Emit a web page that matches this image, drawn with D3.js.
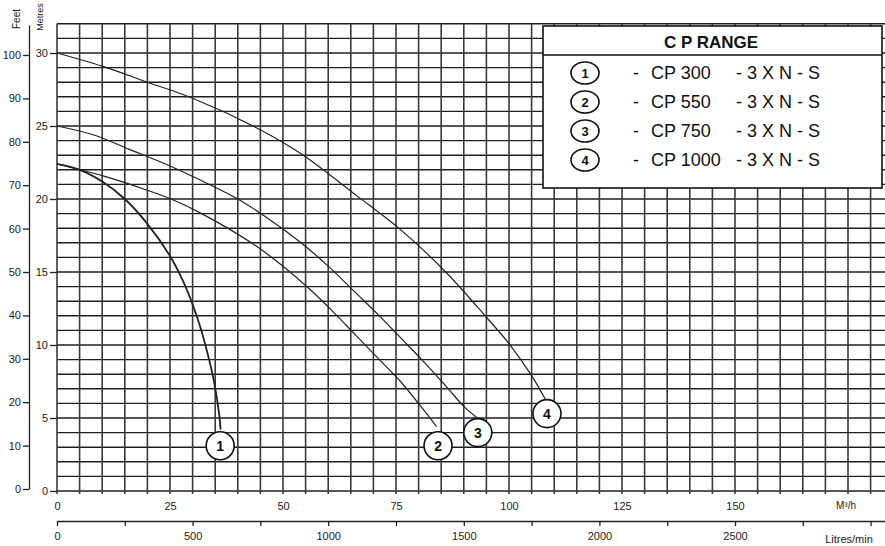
<!DOCTYPE html>
<html>
<head>
<meta charset="utf-8">
<script src="https://cdn.jsdelivr.net/npm/d3@7"></script>
<style>
  body { margin: 0; background: #fff; }
  svg { display: block; font-family: "Liberation Sans", Arial, sans-serif; }
</style>
</head>
<body>
<div id="chart"></div>
<script>
// pump curves: [flow m3/h, head metres]
const cp300 = [[0, 22.4], [5, 22.0], [10, 21.2], [15, 20.0], [20, 18.3], [25, 16.1], [28, 14.3],
  [31, 11.9], [33, 9.8], [34.8, 7.4], [35.9, 5.2], [36.2, 4.2]];
const cp550 = [[0, 22.4], [10, 21.6], [20, 20.6], [26, 19.9], [32, 19.0], [43, 17.0], [50, 15.4],
  [56, 13.8], [61, 12.3], [66, 10.7], [71, 9.1], [76, 7.5], [81, 5.6], [84, 4.4]];
const cp750 = [[0, 25.0], [8, 24.4], [16, 23.4], [24, 22.4], [31, 21.4], [40, 20.0], [47, 18.6],
  [54, 17.0], [60, 15.4], [66, 13.6], [71, 12.1], [76, 10.5], [81, 8.9], [86, 7.2], [90, 5.8], [93, 5.0]];
const cp1000 = [[0, 30.0], [10, 29.1], [20, 28.0], [30, 26.9], [44, 24.9], [54, 23.1], [66, 20.3],
  [76, 17.9], [86, 15.0], [95, 11.9], [100, 10.1], [105, 7.9], [108, 6.3]];

// numbered circle markers at the end of each curve
const curveLabels = [['1', 36.1, 3.1], ['2', 84.3, 3.1], ['3', 93.1, 4.0], ['4', 108.4, 5.3]];

const legendNames = ['CP 300', 'CP 550', 'CP 750', 'CP 1000'];
const legendSuffix = '- 3 X N - S';
const legendTitle = 'C P RANGE';

const metreTicks = [0, 5, 10, 15, 20, 25, 30];
const feetTicks = [0, 10, 20, 30, 40, 50, 60, 70, 80, 90, 100];
const flowTicks = [0, 25, 50, 75, 100, 125, 150];
const litreTicks = [0, 250, 500, 750, 1000, 1250, 1500, 1750, 2000, 2250, 2500, 2750, 3000];

const W = 885, H = 546;
const svg = d3.select('#chart').append('svg').attr('width', W).attr('height', H);

const x = d3.scaleLinear().domain([0, 150]).range([57, 735]);
const y = d3.scaleLinear().domain([0, 30]).range([491, 53]);
const feet = d3.scaleLinear().domain([0, 100]).range([489, 55]);
const litres = d3.scaleLinear().domain([0, 2500]).range([57, 735]);

const maxFlow = x.invert(W);

// grid
const grid = svg.append('g');
grid.selectAll('.hl')
  .data(d3.range(0, 33))
  .enter()
  .append('line')
  .attr('x1', x(0))
  .attr('x2', W)
  .attr('y1', (d) => y(d))
  .attr('y2', (d) => y(d))
  .attr('stroke', '#1e1e1e')
  .attr('stroke-width', 1.4);

grid.selectAll('.vl')
  .data(d3.range(0, maxFlow, 5))
  .enter()
  .append('line')
  .attr('x1', (d) => x(d))
  .attr('x2', (d) => x(d))
  .attr('y1', y(32))
  .attr('y2', y(0) + 3)
  .attr('stroke', '#3a3a3a')
  .attr('stroke-width', 1.6);

// metres axis
const yAxis = svg.append('g')
  .attr('transform', `translate(${x(0)},0)`)
  .call(d3.axisLeft(y).tickValues(metreTicks).tickSize(7).tickPadding(2));
yAxis.select('.domain').remove();

// feet axis
const feetExt = d3.scaleLinear().domain([0, feet.invert(25)]).range([489, 25]);
svg.append('g')
  .attr('transform', 'translate(29,0)')
  .call(d3.axisLeft(feetExt).tickValues(feetTicks).tickSize(6).tickSizeOuter(0).tickPadding(2));

// flow axis (m3/h)
const xAxis = svg.append('g')
  .attr('transform', `translate(0,${y(0)})`)
  .call(d3.axisBottom(x).tickValues(flowTicks).tickSize(0).tickPadding(11));
xAxis.select('.domain').remove();

// litres/min axis
const litresExt = d3.scaleLinear().domain([0, litres.invert(W)]).range([57, W]);
svg.append('g')
  .attr('transform', 'translate(0,521)')
  .call(d3.axisBottom(litresExt).tickValues(litreTicks).tickSize(5).tickSizeOuter(0).tickPadding(6)
    .tickFormat((d) => (d % 500 === 0 && d <= 2500 ? d : '')));

svg.selectAll('.tick text').attr('font-size', 11).attr('fill', '#222')
  .attr('font-family', '"Liberation Sans", Arial, sans-serif');
svg.selectAll('.tick line, .domain').attr('stroke', '#222').attr('stroke-width', 1.3);

// unit labels
svg.append('text').attr('transform', 'translate(20,19) rotate(-90)')
  .attr('text-anchor', 'middle').attr('font-size', 10).attr('fill', '#222').text('Feet');
svg.append('text').attr('transform', 'translate(43,17) rotate(-90)')
  .attr('text-anchor', 'middle').attr('font-size', 9).attr('fill', '#222').text('Metres');
svg.append('text').attr('x', 846).attr('y', 509)
  .attr('text-anchor', 'middle').attr('font-size', 10).attr('fill', '#222').text('M³/h');
svg.append('text').attr('x', 849).attr('y', 543)
  .attr('text-anchor', 'middle').attr('font-size', 11).attr('fill', '#222').text('Litres/min');

// curves
const line = d3.line()
  .x((d) => x(d[0]))
  .y((d) => y(d[1]))
  .curve(d3.curveCatmullRom.alpha(0.5));

const curves = [cp300, cp550, cp750, cp1000];
svg.selectAll('.curve')
  .data(curves)
  .enter()
  .append('path')
  .attr('class', 'curve')
  .attr('d', line)
  .attr('fill', 'none')
  .attr('stroke', '#222')
  .attr('stroke-width', (d, i) => (i === 0 ? 1.8 : 1.2));

const marks = svg.selectAll('.mark')
  .data(curveLabels)
  .enter()
  .append('g')
  .attr('transform', (d) => `translate(${x(d[1])},${y(d[2])})`);
marks.append('circle').attr('r', 14).attr('fill', '#fff').attr('stroke', '#111').attr('stroke-width', 1.6);
marks.append('text').attr('text-anchor', 'middle').attr('dy', '0.36em')
  .attr('font-size', 14).attr('font-weight', 'bold').attr('fill', '#111').text((d) => d[0]);

// legend
const lg = svg.append('g');
lg.append('rect').attr('x', 543).attr('y', 26).attr('width', 339).attr('height', 162)
  .attr('fill', '#fff').attr('stroke', '#111').attr('stroke-width', 1.6);
lg.append('line').attr('x1', 543).attr('x2', 882).attr('y1', 55).attr('y2', 55)
  .attr('stroke', '#111').attr('stroke-width', 1.4);
lg.append('text').attr('x', 711).attr('y', 48).attr('text-anchor', 'middle')
  .attr('font-size', 17).attr('font-weight', 'bold').attr('fill', '#111').text(legendTitle);

const rows = lg.selectAll('.row')
  .data(legendNames)
  .enter()
  .append('g')
  .attr('transform', (d, i) => `translate(0,${73 + i * 29})`);
rows.append('ellipse').attr('cx', 585).attr('rx', 14).attr('ry', 11)
  .attr('fill', '#fff').attr('stroke', '#111').attr('stroke-width', 1.6);
rows.append('text').attr('x', 585).attr('dy', '0.36em').attr('text-anchor', 'middle')
  .attr('font-size', 13).attr('font-weight', 'bold').attr('fill', '#111').text((d, i) => i + 1);
rows.append('text').attr('x', 633).attr('dy', '0.36em').attr('font-size', 18).attr('fill', '#111').text('-');
rows.append('text').attr('x', 651).attr('dy', '0.36em').attr('font-size', 18).attr('fill', '#111').text((d) => d);
rows.append('text').attr('x', 736).attr('dy', '0.36em').attr('font-size', 18).attr('fill', '#111').text(legendSuffix);
</script>
</body>
</html>
